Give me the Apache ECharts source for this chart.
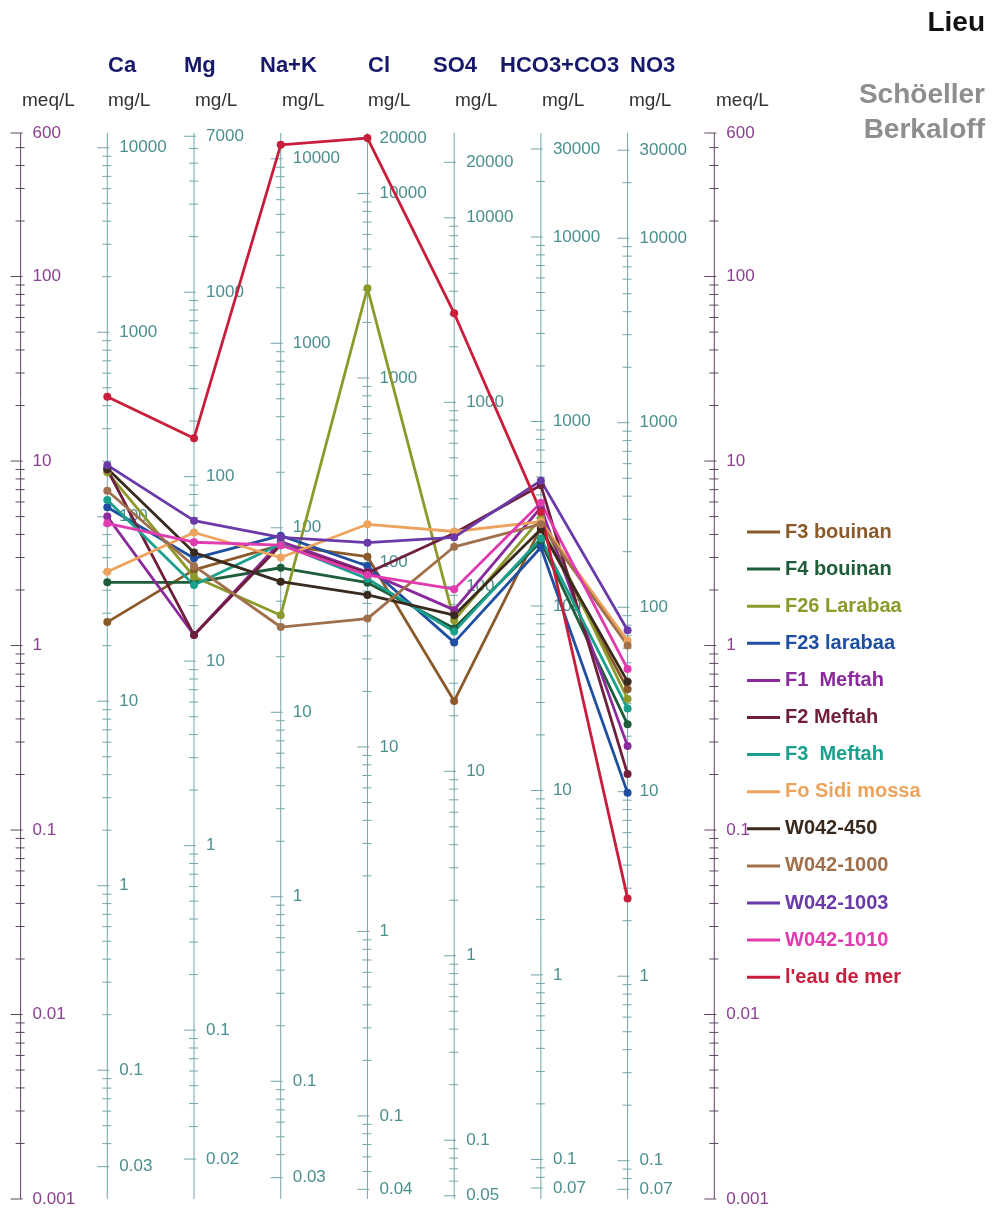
<!DOCTYPE html>
<html>
<head>
<meta charset="utf-8">
<script src="https://cdn.jsdelivr.net/npm/echarts@6/dist/echarts.min.js"></script>
<style>
  html, body { margin: 0; padding: 0; background: #ffffff; }
  #chart { width: 993px; height: 1208px; }
</style>
</head>
<body>
<div id="chart"></div>
<script>
// Ion columns of the Schoeller-Berkaloff diagram
const ions = ['Ca', 'Mg', 'Na+K', 'Cl', 'SO4', 'HCO3+CO3', 'NO3'];
// mg/L per meq/L for each ion column
const eqWeights = [20.04, 12.15, 23.0, 35.45, 48.03, 61.02, 62.0];
// common meq/L range shared by every vertical scale
const meqMin = 0.001;
const meqMax = 600;

// Sample names
const sampleNames = ['F3 bouinan', 'F4 bouinan', 'F26 Larabaa', 'F23 larabaa', 'F1  Meftah',
  'F2 Meftah', 'F3  Meftah', 'Fo Sidi mossa', 'W042-450', 'W042-1000', 'W042-1003',
  'W042-1010', "l'eau de mer"];

// Concentrations in meq/L, order: Ca, Mg, Na+K, Cl, SO4, HCO3+CO3, NO3
const f3Bouinan   = [1.34, 2.57, 3.5, 3.03, 0.50, 4.35, 0.58];
const f4Bouinan   = [2.2, 2.2, 2.64, 2.19, 1.24, 3.65, 0.374];
const f26Larabaa  = [8.7, 2.36, 1.46, 86.5, 1.37, 4.9, 0.513];
const f23Larabaa  = [5.62, 2.97, 3.94, 2.70, 1.04, 3.4, 0.159];
const f1Meftah    = [5.0, 1.14, 3.66, 2.5, 1.56, 5.6, 0.285];
const f2Meftah    = [9.0, 1.14, 3.51, 2.47, 4.06, 7.4, 0.201];
const f3Meftah    = [6.15, 2.13, 3.55, 2.3, 1.19, 3.8, 0.456];
const foSidiMossa = [2.51, 4.1, 3.0, 4.54, 4.15, 4.7, 1.06];
const w042_450    = [9.1, 3.19, 2.22, 1.88, 1.46, 4.27, 0.637];
const w042_1000   = [6.9, 2.7, 1.26, 1.40, 3.43, 4.55, 1.0];
const w042_1003   = [9.5, 4.75, 3.86, 3.61, 3.86, 7.83, 1.21];
const w042_1010   = [4.6, 3.63, 3.5, 2.41, 2.02, 5.95, 0.746];
const eauDeMer    = [22.3, 13.3, 518, 563, 63.3, 5.3, 0.0426];

const sampleValues = [f3Bouinan, f4Bouinan, f26Larabaa, f23Larabaa, f1Meftah, f2Meftah,
  f3Meftah, foSidiMossa, w042_450, w042_1000, w042_1003, w042_1010, eauDeMer];

const sampleColors = ['#8b5a2b', '#1f5c3a', '#8c9a2c', '#1f4fa0', '#8a2a9c', '#6e1f3c',
  '#1aa08c', '#eda35c', '#3a2a1e', '#a0704c', '#6a3aa8', '#e03cb0', '#c81e3c'];

// Vertical scales: left meq/L, one mg/L scale per ion, right meq/L
const scaleSlots = [0, 1, 2, 3, 4, 5, 6, 7, 8];
const scaleFactors = [1].concat(eqWeights, [1]);

const FONT = '"Liberation Sans", Arial, sans-serif';

function renderScale(params, api) {
  const i = params.dataIndex;
  const f = scaleFactors[i];
  const isMeq = (i === 0 || i === scaleSlots.length - 1);
  const lineCol = isMeq ? '#5e4562' : '#72a6ab';
  const textCol = isMeq ? '#8a3f8f' : '#4b8f8f';
  const top = api.coord([i, meqMax]);
  const bot = api.coord([i, meqMin]);
  const children = [{
    type: 'line',
    shape: { x1: top[0], y1: top[1], x2: bot[0], y2: bot[1] },
    style: { stroke: lineCol, lineWidth: 1 }
  }];
  const vmin = meqMin * f, vmax = meqMax * f;
  const ticks = [];
  for (let d = Math.floor(Math.log10(vmin)); d <= Math.ceil(Math.log10(vmax)); d++) {
    for (let k = 1; k <= 9; k++) {
      const v = +(k * Math.pow(10, d)).toPrecision(6);
      if (v >= vmin * 0.99999 && v <= vmax * 1.00001) ticks.push({ v: v, k: k });
    }
  }
  ticks.forEach(function (t, j) {
    const labelled = t.k === 1 || j === 0 || j === ticks.length - 1;
    const p = api.coord([i, t.v / f]);
    const x = p[0], y = p[1];
    children.push({
      type: 'line',
      shape: labelled ? { x1: x - 10, y1: y, x2: x + 2, y2: y } : { x1: x - 5, y1: y, x2: x + 4, y2: y },
      style: { stroke: lineCol, lineWidth: 1 }
    });
    if (labelled) {
      children.push({
        type: 'text',
        x: x + 12,
        y: y,
        style: {
          text: String(t.v), fill: textCol, font: '17px ' + FONT,
          textAlign: 'left', textVerticalAlign: 'middle', align: 'left', verticalAlign: 'middle'
        }
      });
    }
  });
  return { type: 'group', children: children };
}

const chart = echarts.init(document.getElementById('chart'), null, { renderer: 'canvas' });

const headerLeft = [108, 184, 260, 368, 433, 500, 630];
const unitLeft = [22, 108, 195, 282, 368, 455, 542, 629, 716];

const graphics = [];
ions.forEach(function (name, j) {
  graphics.push({
    type: 'text', left: headerLeft[j], top: 55,
    style: { text: name, font: 'bold 22px ' + FONT, fill: '#16186a' }
  });
});
scaleSlots.forEach(function (s, j) {
  const isMeq = (j === 0 || j === scaleSlots.length - 1);
  graphics.push({
    type: 'text', left: unitLeft[j], top: 91,
    style: { text: isMeq ? 'meq/L' : 'mg/L', font: '19px ' + FONT, fill: '#333333' }
  });
});
graphics.push({ type: 'text', right: 8, top: 9, style: { text: 'Lieu', font: 'bold 28px ' + FONT, fill: '#111111' } });
graphics.push({ type: 'text', right: 8, top: 81, style: { text: 'Schöeller', font: 'bold 28px ' + FONT, fill: '#8e8e8e' } });
graphics.push({ type: 'text', right: 8, top: 116, style: { text: 'Berkaloff', font: 'bold 28px ' + FONT, fill: '#8e8e8e' } });

const lineSeries = sampleValues.map(function (vals, i) {
  return {
    type: 'line',
    name: sampleNames[i],
    data: vals.map(function (v, j) { return [j + 1, v]; }),
    symbol: 'circle',
    symbolSize: 8,
    lineStyle: { width: 2.8, color: sampleColors[i] },
    itemStyle: { color: sampleColors[i] },
    z: 3
  };
});

chart.setOption({
  animation: false,
  backgroundColor: '#ffffff',
  grid: { left: 20.6, right: 278.7, top: 133, bottom: 9 },
  xAxis: { type: 'value', min: 0, max: 8, show: false },
  yAxis: { type: 'log', logBase: 10, min: meqMin, max: meqMax, show: false },
  legend: {
    orient: 'vertical', left: 747, top: 522, padding: 0,
    itemWidth: 33, itemHeight: 3, itemGap: 17.1,
    icon: 'rect', selectedMode: false,
    textStyle: { fontSize: 20, fontWeight: 'bold', fontFamily: FONT, lineHeight: 20 },
    data: sampleNames.map(function (n, i) {
      return { name: n, textStyle: { color: sampleColors[i] } };
    })
  },
  graphic: graphics,
  series: [{
    type: 'custom',
    silent: true,
    clip: false,
    z: 1,
    renderItem: renderScale,
    data: scaleSlots.map(function (s) { return [s, 1]; })
  }].concat(lineSeries)
});
</script>
</body>
</html>
